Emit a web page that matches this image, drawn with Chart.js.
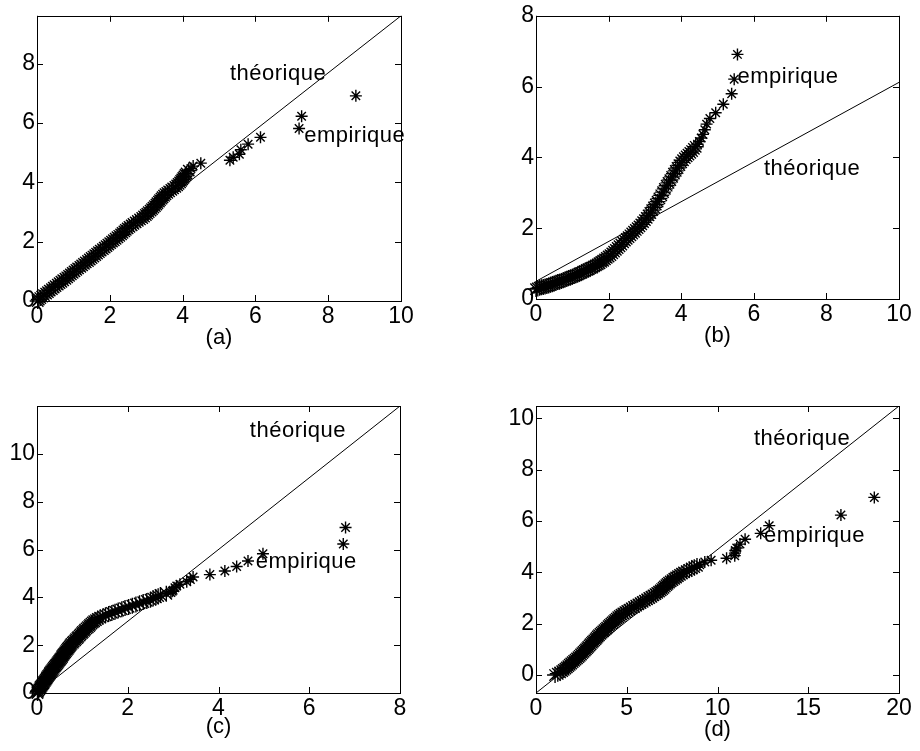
<!DOCTYPE html>
<html>
<head>
<meta charset="utf-8">
<script src="https://cdn.jsdelivr.net/npm/chart.js@4.4.1/dist/chart.umd.min.js"></script>
<style>
  html, body { margin: 0; padding: 0; background: #fff; }
  #wrap { position: relative; width: 920px; height: 751px; }
  #wrap canvas { position: absolute; left: 0; top: 0; }
</style>
</head>
<body>
<div id="wrap">
  <canvas id="qq-a" width="920" height="751"></canvas>
  <canvas id="qq-b" width="920" height="751"></canvas>
  <canvas id="qq-c" width="920" height="751"></canvas>
  <canvas id="qq-d" width="920" height="751"></canvas>
</div>
<script>
// empirical quantiles (y), shared by panels a, c and d
const sampleQ = [
    0.00, 0.05, 0.10, 0.15, 0.20, 0.25, 0.30, 0.35, 0.40, 0.45, 0.50, 0.55, 0.60, 0.65, 0.70, 0.75, 0.80, 0.85, 0.90, 0.95,
    1.00, 1.05, 1.10, 1.15, 1.20, 1.25, 1.30, 1.35, 1.40, 1.45, 1.50, 1.55, 1.60, 1.65, 1.70, 1.75, 1.80, 1.85, 1.90, 1.95,
    2.00, 2.05, 2.10, 2.15, 2.20, 2.25, 2.30, 2.35, 2.40, 2.45, 2.50, 2.55, 2.60, 2.65, 2.70, 2.75, 2.80, 2.85, 2.90, 2.95,
    3.00, 3.05, 3.10, 3.15, 3.20, 3.25, 3.30, 3.35, 3.40, 3.45, 3.50, 3.55, 3.60, 3.65, 3.70, 3.75, 3.80, 3.85, 3.90, 3.95,
    4.00, 4.05, 4.10, 4.15, 4.20, 4.25, 4.30,
    4.40, 4.47, 4.55, 4.65, 4.75, 4.85, 4.95, 5.10, 5.29, 5.52, 5.82, 6.23, 6.92];

// theoretical quantiles (x) for each panel, same order as sampleQ
const xA = [
    0.02, 0.05, 0.09, 0.14, 0.19, 0.25, 0.30, 0.35, 0.41, 0.46, 0.51, 0.57, 0.62, 0.67, 0.72, 0.78, 0.83, 0.88, 0.93, 0.98,
    1.03, 1.08, 1.13, 1.19, 1.24, 1.29, 1.34, 1.40, 1.45, 1.50, 1.55, 1.60, 1.65, 1.70, 1.75, 1.81, 1.86, 1.91, 1.96, 2.01,
    2.06, 2.11, 2.16, 2.21, 2.26, 2.31, 2.35, 2.40, 2.44, 2.49, 2.54, 2.60, 2.65, 2.71, 2.77, 2.83, 2.89, 2.94, 2.99, 3.03,
    3.07, 3.12, 3.16, 3.20, 3.24, 3.28, 3.31, 3.35, 3.38, 3.42, 3.45, 3.49, 3.53, 3.58, 3.63, 3.69, 3.74, 3.80, 3.85, 3.89,
    3.93, 3.96, 3.99, 4.02, 4.05, 4.08, 4.11,
    4.17, 4.23, 4.29, 4.50, 5.30, 5.39, 5.56, 5.60, 5.80, 6.14, 7.20, 7.27, 8.76];
const xC = [
    0.01, 0.02, 0.03, 0.05, 0.07, 0.08, 0.10, 0.12, 0.14, 0.15, 0.17, 0.19, 0.21, 0.22, 0.24, 0.26, 0.28, 0.29, 0.31, 0.33,
    0.35, 0.37, 0.39, 0.41, 0.43, 0.45, 0.47, 0.49, 0.51, 0.53, 0.55, 0.56, 0.58, 0.60, 0.62, 0.64, 0.66, 0.68, 0.70, 0.72,
    0.74, 0.76, 0.79, 0.81, 0.84, 0.86, 0.89, 0.91, 0.94, 0.96, 0.99, 1.01, 1.04, 1.06, 1.09, 1.12, 1.15, 1.17, 1.20, 1.23,
    1.26, 1.30, 1.34, 1.39, 1.45, 1.51, 1.58, 1.65, 1.72, 1.79, 1.87, 1.94, 2.02, 2.10, 2.18, 2.26, 2.34, 2.42, 2.50, 2.56,
    2.62, 2.67, 2.72, 2.85, 2.95, 2.98, 3.00,
    3.04, 3.08, 3.15, 3.30, 3.38, 3.44, 3.81, 4.14, 4.40, 4.65, 4.98, 6.75, 6.80];
const xD = [
    1.05, 1.20, 1.33, 1.44, 1.53, 1.62, 1.70, 1.78, 1.86, 1.94, 2.02, 2.10, 2.18, 2.26, 2.34, 2.41, 2.48, 2.55, 2.62, 2.69,
    2.75, 2.82, 2.88, 2.95, 3.01, 3.08, 3.14, 3.21, 3.28, 3.34, 3.40, 3.47, 3.55, 3.62, 3.70, 3.77, 3.85, 3.92, 4.00, 4.07,
    4.15, 4.22, 4.30, 4.37, 4.45, 4.53, 4.62, 4.71, 4.81, 4.92, 5.03, 5.15, 5.27, 5.40, 5.52, 5.64, 5.76, 5.88, 6.00, 6.12,
    6.24, 6.36, 6.47, 6.58, 6.68, 6.78, 6.87, 6.95, 7.03, 7.10, 7.18, 7.25, 7.33, 7.42, 7.52, 7.62, 7.72, 7.82, 7.93, 8.04,
    8.15, 8.30, 8.45, 8.58, 8.72, 8.87, 9.02,
    9.30, 9.65, 10.50, 10.95, 10.96, 10.98, 11.06, 11.24, 11.52, 12.38, 12.85, 16.80, 18.64];

// panel b has its own pairs
const xB = [
    0.00, 0.05, 0.10, 0.15, 0.20, 0.25, 0.30, 0.35, 0.40, 0.45, 0.50, 0.55, 0.60, 0.65, 0.70, 0.75, 0.80, 0.85, 0.90, 0.95,
    1.00, 1.05, 1.10, 1.15, 1.20, 1.25, 1.30, 1.35, 1.40, 1.45, 1.50, 1.55, 1.60, 1.65, 1.70, 1.75, 1.80, 1.85, 1.90, 1.95,
    2.00, 2.05, 2.10, 2.15, 2.20, 2.25, 2.30, 2.35, 2.40, 2.45, 2.50, 2.55, 2.60, 2.65, 2.70, 2.75, 2.80, 2.85, 2.90, 2.95,
    3.00, 3.05, 3.10, 3.15, 3.20, 3.25, 3.30, 3.35, 3.40, 3.45, 3.50, 3.55, 3.60, 3.65, 3.70, 3.75, 3.80, 3.85, 3.90, 3.95,
    4.00, 4.05, 4.10, 4.15, 4.20, 4.25, 4.30, 4.35, 4.40, 4.45, 4.50, 4.55, 4.60,
    4.65, 4.70, 4.79, 4.95, 5.16, 5.39, 5.46, 5.55];
const yB = [
    0.28, 0.30, 0.32, 0.33, 0.34, 0.35, 0.37, 0.38, 0.40, 0.42, 0.44, 0.46, 0.48, 0.49, 0.51, 0.53, 0.55, 0.57, 0.59, 0.61,
    0.63, 0.65, 0.67, 0.69, 0.72, 0.74, 0.77, 0.79, 0.82, 0.84, 0.87, 0.89, 0.92, 0.95, 0.98, 1.01, 1.05, 1.08, 1.12, 1.16,
    1.20, 1.24, 1.29, 1.34, 1.39, 1.44, 1.49, 1.54, 1.60, 1.65, 1.70, 1.75, 1.80, 1.85, 1.90, 1.95, 2.00, 2.05, 2.11, 2.17,
    2.23, 2.29, 2.36, 2.43, 2.51, 2.59, 2.67, 2.75, 2.84, 2.93, 3.02, 3.11, 3.20, 3.28, 3.36, 3.45, 3.54, 3.62, 3.70, 3.78,
    3.86, 3.92, 3.98, 4.03, 4.08, 4.13, 4.18, 4.24, 4.30, 4.37, 4.45, 4.55, 4.65,
    4.78, 4.94, 5.10, 5.26, 5.50, 5.80, 6.21, 6.91];

// theoretical reference lines (end points)
const lineA = [[0, 0], [10, 9.62]];
const lineB = [[0, 0.5], [10, 6.12]];
const lineC = [[0, 0], [8, 12]];
const lineD = [[0, -0.7], [20, 10.48]];

// tick labels
const xTicksA = [0, 2, 4, 6, 8, 10];
const yTicksA = [0, 2, 4, 6, 8];
const xTicksB = [0, 2, 4, 6, 8, 10];
const yTicksB = [0, 2, 4, 6, 8];
const xTicksC = [0, 2, 4, 6, 8];
const yTicksC = [0, 2, 4, 6, 8, 10];
const xTicksD = [0, 5, 10, 15, 20];
const yTicksD = [0, 2, 4, 6, 8, 10];

const FONT = "'Liberation Sans', Arial, Helvetica, sans-serif";
const YAXIS_W = 36;
const XAXIS_H = 50;
const TICK = 6;
const DENSE_R = 8;   // overlapping stars in the body of the sample
const TAIL_R = 6;    // the isolated stars of the upper tail

// matlab style box with inward ticks on all four sides
const framePlugin = {
    id: 'frame',
    beforeDatasetsDraw(chart) {
        const { ctx, chartArea: a, scales: { x, y } } = chart;
        ctx.save();
        ctx.strokeStyle = '#000';
        ctx.lineWidth = 1;
        ctx.strokeRect(Math.round(a.left) + 0.5, Math.round(a.top) + 0.5,
            Math.round(a.right - a.left), Math.round(a.bottom - a.top));
        ctx.beginPath();
        x.ticks.forEach(t => {
            const px = Math.round(x.getPixelForValue(t.value)) + 0.5;
            ctx.moveTo(px, a.bottom); ctx.lineTo(px, a.bottom - TICK);
            ctx.moveTo(px, a.top); ctx.lineTo(px, a.top + TICK);
        });
        y.ticks.forEach(t => {
            const py = Math.round(y.getPixelForValue(t.value)) + 0.5;
            ctx.moveTo(a.left, py); ctx.lineTo(a.left + TICK, py);
            ctx.moveTo(a.right, py); ctx.lineTo(a.right - TICK, py);
        });
        ctx.stroke();
        ctx.restore();
    }
};

// "théorique" / "empirique" text labels
const notesPlugin = {
    id: 'notes',
    afterDatasetsDraw(chart, args, opts) {
        const { ctx, scales: { x, y } } = chart;
        ctx.save();
        ctx.font = `22px ${FONT}`;
        ctx.fillStyle = '#000';
        ctx.textAlign = 'left';
        ctx.textBaseline = 'alphabetic';
        if ('letterSpacing' in ctx) ctx.letterSpacing = '0.5px';
        (opts.items || []).forEach(n => {
            ctx.fillText(n.text, x.getPixelForValue(n.x), y.getPixelForValue(n.y));
        });
        ctx.restore();
    }
};

const tickFont = { family: FONT, size: 23 };

function makePanel(id, o) {
    const ctx = document.getElementById(id).getContext('2d');
    const tailStart = o.xs.length - o.tail;
    return new Chart(ctx, {
        type: 'scatter',
        data: {
            datasets: [{
                data: o.line.map(p => ({ x: p[0], y: p[1] })),
                showLine: true,
                borderColor: '#000',
                borderWidth: 1,
                pointRadius: 0
            }, {
                data: o.xs.map((v, i) => ({ x: v, y: o.ys[i] })),
                pointStyle: 'star',
                pointRadius: c => (c.dataIndex < tailStart ? DENSE_R : TAIL_R),
                pointBorderWidth: 1.4,
                borderColor: '#000',
                backgroundColor: '#000',
                clip: false
            }]
        },
        options: {
            responsive: false,
            animation: false,
            events: [],
            layout: {
                padding: {
                    left: o.area.l - YAXIS_W,
                    top: o.area.t,
                    right: 920 - o.area.r,
                    bottom: 751 - o.area.b - XAXIS_H
                }
            },
            plugins: {
                legend: { display: false },
                tooltip: { enabled: false },
                notes: { items: o.notes }
            },
            scales: {
                x: {
                    type: 'linear',
                    min: o.xMin,
                    max: o.xMax,
                    afterBuildTicks: s => { s.ticks = o.xTicks.map(v => ({ value: v })); },
                    afterFit: s => { s.height = XAXIS_H; },
                    grid: { display: false, drawTicks: false },
                    border: { display: false },
                    ticks: { color: '#000', font: tickFont, padding: 2, maxRotation: 0, autoSkip: false },
                    title: {
                        display: true,
                        text: o.label,
                        color: '#000',
                        font: { family: FONT, size: 22 },
                        padding: { top: 0, bottom: o.titlePad }
                    }
                },
                y: {
                    type: 'linear',
                    min: o.yMin,
                    max: o.yMax,
                    afterBuildTicks: s => { s.ticks = o.yTicks.map(v => ({ value: v })); },
                    afterFit: s => { s.width = YAXIS_W; },
                    grid: { display: false, drawTicks: false },
                    border: { display: false },
                    ticks: { color: '#000', font: tickFont, padding: 2, autoSkip: false }
                }
            }
        },
        plugins: [framePlugin, notesPlugin]
    });
}

makePanel('qq-a', {
    area: { l: 37, t: 13, r: 401, b: 301 },
    xMin: 0, xMax: 10, yMin: 0, yMax: 9.62,
    xTicks: xTicksA, yTicks: yTicksA,
    xs: xA, ys: sampleQ, line: lineA, tail: 12,
    label: '(a)', titlePad: 0,
    notes: [{ text: 'théorique', x: 5.30, y: 7.47 }, { text: 'empirique', x: 7.34, y: 5.37 }]
});

makePanel('qq-b', {
    area: { l: 536, t: 12, r: 899, b: 299 },
    xMin: 0, xMax: 10, yMin: 0, yMax: 8,
    xTicks: xTicksB, yTicks: yTicksB,
    xs: xB, ys: yB, line: lineB, tail: 12,
    label: '(b)', titlePad: 0,
    notes: [{ text: 'empirique', x: 5.55, y: 6.10 }, { text: 'théorique', x: 6.28, y: 3.50 }]
});

makePanel('qq-c', {
    area: { l: 37, t: 406, r: 400, b: 693 },
    xMin: 0, xMax: 8, yMin: 0, yMax: 12,
    xTicks: xTicksC, yTicks: yTicksC,
    xs: xC, ys: sampleQ, line: lineC, tail: 16,
    label: '(c)', titlePad: 3,
    notes: [{ text: 'théorique', x: 4.69, y: 10.70 }, { text: 'empirique', x: 4.82, y: 5.22 }]
});

makePanel('qq-d', {
    area: { l: 536, t: 406, r: 899, b: 693 },
    xMin: 0, xMax: 20, yMin: -0.7, yMax: 10.48,
    xTicks: xTicksD, yTicks: yTicksD,
    xs: xD, ys: sampleQ, line: lineD, tail: 14,
    label: '(d)', titlePad: 0,
    notes: [{ text: 'théorique', x: 12.01, y: 8.96 }, { text: 'empirique', x: 12.56, y: 5.19 }]
});
</script>
</body>
</html>
